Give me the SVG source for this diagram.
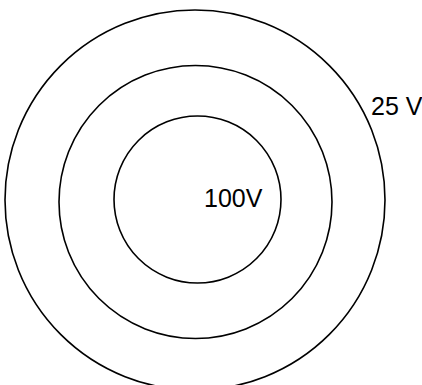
<svg xmlns="http://www.w3.org/2000/svg" width="422" height="385" viewBox="0 0 422 385">
<style>
.ring{fill:none;stroke:#000;stroke-width:1.6}
.lbl{font-family:"Liberation Sans",Arial,sans-serif;font-size:25px;fill:#000}
</style>
<rect width="422" height="385" fill="#fff"/>
<g id="outer"><circle class="ring" cx="195" cy="200" r="190"/><text class="lbl" x="371" y="115">25 V</text></g>
<g id="middle"><circle class="ring" cx="195.5" cy="202" r="136.5"/></g>
<g id="inner"><circle class="ring" cx="197.5" cy="199.5" r="83.5"/><text class="lbl" x="204" y="207">100V</text></g>
<g id="connectors"/>
</svg>
